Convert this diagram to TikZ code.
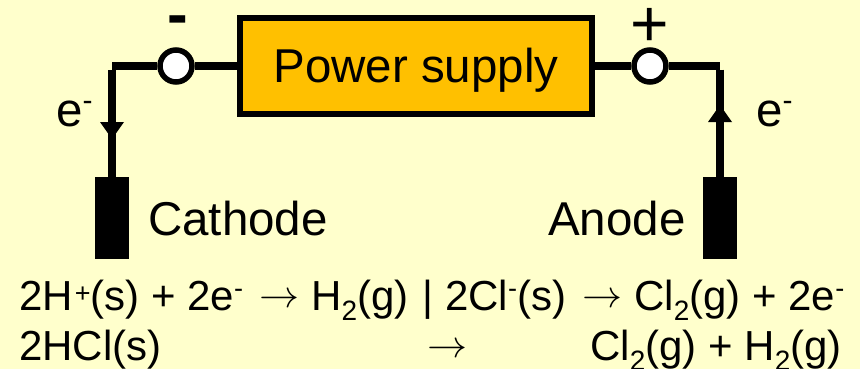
\documentclass[tikz,border=0pt]{standalone}
\usepackage{fontspec}
\setmainfont{Liberation Sans}
\definecolor{bgc}{RGB}{255,255,204}
\definecolor{boxc}{RGB}{255,192,0}
\newcommand{\supplus}{\hspace{2pt}\raisebox{8pt}{\fontsize{27}{27}\selectfont +}}
\newcommand{\supminus}{\raisebox{13pt}{\fontsize{27}{27}\selectfont -}}
\newcommand{\labminus}{\raisebox{15.5pt}{\fontsize{30}{30}\selectfont -}}
\newcommand{\subx}[1]{\raisebox{-10pt}{\fontsize{28}{28}\selectfont #1}}
\newcommand{\arr}{\raisebox{3pt}{\resizebox{40pt}{14pt}{$\rightarrow$}}}
\newcommand{\seg}[2]{\makebox[#1pt][l]{#2}}
\tikzset{
  wire/.style={line width=7.3pt,line cap=butt},
  terminal/.style={circle,draw=black,fill=white,line width=5.5pt,minimum size=32pt,inner sep=0pt},
  electrode/.style={rectangle,fill=black,minimum width=34pt,minimum height=82pt,inner sep=0pt},
  supply/.style={rectangle,draw=black,fill=boxc,line width=6pt,minimum width=352pt,minimum height=96pt,inner sep=0pt,font=\fontsize{47.5}{47.5}\selectfont},
  lab/.style={inner sep=0pt,anchor=base west,font=\fontsize{47.5}{47.5}\selectfont},
  eqn/.style={inner sep=0pt,anchor=base west,font=\fontsize{42}{42}\selectfont},
  head/.style={fill=black}
}
\begin{document}
\begin{tikzpicture}[x=1pt,y=-1pt]
\useasboundingbox[fill=bgc] (0,0) rectangle (860,369);
\node[supply] (ps) at (416,66) {\raisebox{-17pt}[0pt][0pt]{Power supply}};
\node[terminal] (tl) at (176,66) {};
\node[terminal] (tr) at (650,66) {};
\node[electrode] (cat) at (112,218) {};
\node[electrode] (ano) at (720,218) {};
\coordinate (cl) at (112,66);
\coordinate (cr) at (720,66);
\draw[wire] (ps.west) -- (tl.east);
\draw[wire] (ps.east) -- (tr.west);
\draw[wire] (tl.west) -- (cl);
\draw[wire] (tr.east) -- (cr);
\draw[wire] (112,69.65) -- (cat.north);
\draw[wire] (720,69.65) -- (ano.north);
\fill[head] (100,122) -- (124,122) -- (112,139) -- cycle;
\fill[head] (708,122) -- (732,122) -- (720,105) -- cycle;
\node[inner sep=0pt,font=\fontsize{62}{62}\bfseries\selectfont] (minus) at (178,26) {-};
\node[inner sep=0pt,font=\fontsize{66}{66}\selectfont] (plus) at (650,27.5) {+};
\node[lab] (e1) at (56,126) {e\labminus};
\node[lab] (e2) at (756,126) {e\labminus};
\node[lab] (ct) at (148,235) {Cathode};
\node[lab] (an) at (548,235) {Anode};
\node[eqn] (l1) at (19,310) {\seg{240}{2H\supplus(s) + 2e\supminus}\seg{52}{\arr}\seg{111}{H\subx{2}(g)}\seg{23}{|}\seg{137}{2Cl\supminus(s)}\seg{52}{\arr}Cl\subx{2}(g) + 2e\supminus};
\node[eqn] (l2a) at (19,360) {2HCl(s)};
\node[eqn] (l2b) at (427,360) {\arr};
\node[eqn] (l2c) at (590,360) {Cl\subx{2}(g) + H\subx{2}(g)};
\end{tikzpicture}
\end{document}
